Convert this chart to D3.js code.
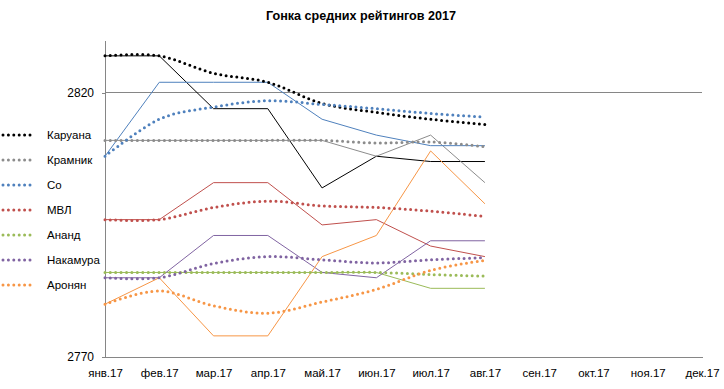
<!DOCTYPE html>
<html>
<head>
<meta charset="utf-8">
<script src="https://cdn.jsdelivr.net/npm/d3@7"></script>
<style>
  body { margin: 0; background: #fff; }
  svg { display: block; font-family: "Liberation Sans", Arial, sans-serif; }
</style>
</head>
<body>
<svg id="chart" width="724" height="389"></svg>
<script>
const months = ["янв.17","фев.17","мар.17","апр.17","май.17","июн.17","июл.17","авг.17","сен.17","окт.17","ноя.17","дек.17"];
const names = ["Каруана","Крамник","Со","МВЛ","Ананд","Накамура","Аронян"];
const colors = ["#000000","#8c8c8c","#4f81bd","#c0504d","#9bbb59","#8064a2","#f79646"];
const yTicks = [2770, 2820];

// monthly ratings (solid thin lines)
const karuana  = [2827,2827,2817,2817,2802,2808,2807,2807];
const kramnik  = [2811,2811,2811,2811,2811,2808,2812,2803];
const so       = [2808,2822,2822,2822,2815,2812,2810,2810];
const mvl      = [2796,2796,2803,2803,2795,2796,2791,2789];
const anand    = [2786,2786,2786,2786,2786,2786,2783,2783];
const nakamura = [2785,2785,2793,2793,2786,2785,2792,2792];
const aronian  = [2780,2785,2774,2774,2789,2793,2809,2799];

// running averages (dotted smoothed lines)
const karuanaAvg  = [2827,2827,2823.7,2822,2818,2816.3,2815,2814];
const kramnikAvg  = [2811,2811,2811,2811,2811,2810.5,2810.7,2809.8];
const soAvg       = [2808,2815,2817.3,2818.5,2817.8,2817,2816.1,2815.4];
const mvlAvg      = [2796,2796,2798.3,2799.5,2798.6,2798.3,2797.6,2796.6];
const anandAvg    = [2786,2786,2786,2786,2786,2786,2785.6,2785.3];
const nakamuraAvg = [2785,2785,2787.7,2789,2788.4,2787.8,2788.4,2788.8];
const aronianAvg  = [2780,2782.5,2779.7,2778.3,2780.4,2782.8,2786.4,2788.3];

const ratings = [karuana, kramnik, so, mvl, anand, nakamura, aronian];
const averages = [karuanaAvg, kramnikAvg, soAvg, mvlAvg, anandAvg, nakamuraAvg, aronianAvg];

(function draw() {
const svg = d3.select("#chart");
const pL = 105, pR = 702, pT = 40, pB = 357;

const x = d3.scalePoint().domain(months).range([pL, pR]);
const y = d3.scaleLinear().domain([2770, 2830]).range([pB, pT]);

// title
svg.append("text")
  .attr("x", 361).attr("y", 20)
  .attr("text-anchor", "middle")
  .attr("font-size", 12.6).attr("font-weight", "bold")
  .attr("fill", "#000")
  .text("Гонка средних рейтингов 2017");

// gridline at 2820
svg.append("g").selectAll("line")
  .data(yTicks.filter(v => v !== 2770))
  .join("line")
  .attr("x1", pL).attr("x2", pR)
  .attr("y1", d => y(d)).attr("y2", d => y(d))
  .attr("stroke", "#868686").attr("stroke-width", 1)
  .attr("shape-rendering", "crispEdges");

// y axis
const yAxis = svg.append("g")
  .attr("transform", `translate(${pL},0)`)
  .call(d3.axisLeft(y).tickValues(yTicks).tickSize(3).tickSizeOuter(0).tickPadding(8).tickFormat(d3.format("d")));
yAxis.select(".domain").attr("stroke", "#868686").attr("shape-rendering", "crispEdges");
yAxis.selectAll(".tick line").attr("stroke", "#868686").attr("shape-rendering", "crispEdges");
yAxis.selectAll("text").attr("font-size", 12).attr("fill", "#000").attr("font-family", "Liberation Sans, Arial, sans-serif");

// x axis
const xAxis = svg.append("g")
  .attr("transform", `translate(0,${pB})`)
  .call(d3.axisBottom(x).tickSize(0).tickPadding(12));
xAxis.select(".domain").attr("stroke", "#868686").attr("shape-rendering", "crispEdges");
xAxis.selectAll("text").attr("font-size", 11.5).attr("fill", "#000").attr("font-family", "Liberation Sans, Arial, sans-serif");

// solid rating lines
const straight = d3.line().x((d, i) => x(months[i])).y(d => y(d));
svg.append("g").selectAll("path")
  .data(ratings)
  .join("path")
  .attr("d", d => straight(d))
  .attr("fill", "none")
  .attr("stroke", (d, i) => colors[i])
  .attr("stroke-width", 1);

// dotted smoothed average lines
const smooth = d3.line().x((d, i) => x(months[i])).y(d => y(d)).curve(d3.curveCatmullRom.alpha(0));
svg.append("g").selectAll("path")
  .data(averages)
  .join("path")
  .attr("d", d => smooth(d))
  .attr("fill", "none")
  .attr("stroke", (d, i) => colors[i])
  .attr("stroke-width", 3)
  .attr("stroke-linecap", "round")
  .attr("stroke-dasharray", "0 5.4");

// legend
const lg = svg.append("g");
const items = lg.selectAll("g").data(names).join("g")
  .attr("transform", (d, i) => `translate(0,${135 + i * 25})`);
items.append("line")
  .attr("x1", 3).attr("x2", 35).attr("y1", 0).attr("y2", 0)
  .attr("stroke", (d, i) => colors[i])
  .attr("stroke-width", 3)
  .attr("stroke-linecap", "round")
  .attr("stroke-dasharray", "0 5.4");
items.append("text")
  .attr("x", 47).attr("y", 0).attr("dy", "0.35em")
  .attr("font-size", 11.5).attr("fill", "#000")
  .text(d => d);
})();
</script>
</body>
</html>
